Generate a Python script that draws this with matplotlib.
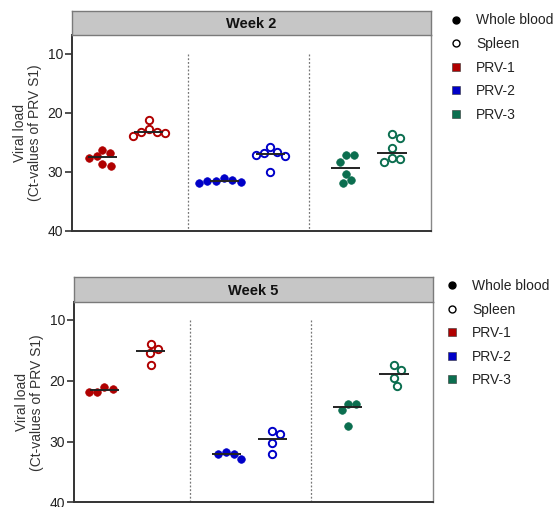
import numpy as np
import matplotlib
matplotlib.use("Agg")
import matplotlib.pyplot as plt
from matplotlib.lines import Line2D

plt.rcParams['font.family'] = ['Liberation Sans', 'DejaVu Sans']

# Ct values (lower Ct = more virus)
weeks = ['Week 2', 'Week 5']
strains = ['PRV-1', 'PRV-2', 'PRV-3']
colors = ['#b00000', '#0000c8', '#0b6e4f']

week2_blood = [[26.3, 26.9, 27.4, 27.7, 28.6, 29.0],
               [31.1, 31.4, 31.5, 31.6, 31.7, 31.9],
               [27.2, 27.2, 28.3, 30.3, 31.4, 31.9]]
week2_spleen = [[21.2, 22.8, 23.2, 23.2, 23.4, 24.0],
                [25.8, 26.6, 26.8, 27.1, 27.3, 30.0],
                [23.6, 24.2, 25.9, 27.7, 27.9, 28.3]]
week5_blood = [[21.1, 21.3, 21.8, 21.8],
               [31.7, 32.0, 32.1, 32.8],
               [23.8, 23.8, 24.8, 27.4]]
week5_spleen = [[14.0, 14.8, 15.4, 17.4],
                [28.2, 28.8, 30.3, 32.1],
                [17.4, 18.2, 19.6, 20.9]]

blood = [week2_blood, week5_blood]
spleen = [week2_spleen, week5_spleen]

W, H = 558, 507
fig = plt.figure(figsize=(W / 100, H / 100), dpi=100)

# panel boxes in pixels: left, top, right, bottom, strip top, ylim top
panels = [(72, 35, 431, 230.7, 11, 6.8),
          (74, 302.3, 433, 502.3, 277.3, 7.1)]
legend_pos = [(449.5, 13.5), (445.5, 279)]
xlim = (-0.45, 2.5)


def swarm(vals, px_x, px_y, d=8.5):
    # simple beeswarm in pixel space, returns x offsets in data units
    order = np.argsort(vals)
    placed = []
    offs = np.zeros(len(vals))
    for i in order:
        y = vals[i] * px_y
        cands = [0.0]
        for px, py in placed:
            dy = abs(y - py)
            if dy < d:
                dx = np.sqrt(d * d - dy * dy)
                cands += [px + dx, px - dx]
        cands.sort(key=lambda c: (abs(round(c, 6)), -c))
        for c in cands:
            if all((c - px) ** 2 + (y - py) ** 2 >= d * d - 1e-6 for px, py in placed):
                break
        placed.append((c, y))
        offs[i] = c / px_x
    return offs


for k, (l, t, r, b, st, ytop) in enumerate(panels):
    ax = fig.add_axes([l / W, 1 - b / H, (r - l) / W, (b - t) / H])
    ax.set_xlim(*xlim)
    ax.set_ylim(40, ytop)
    px_x = (r - l) / (xlim[1] - xlim[0])
    px_y = (b - t) / (40 - ytop)

    for g in range(3):
        for vals, dx, filled in [(blood[k][g], -0.2, True), (spleen[k][g], 0.18, False)]:
            v = np.array(vals)
            x = g + dx + swarm(v, px_x, px_y)
            if filled:
                ax.scatter(x, v, s=30, color=colors[g], edgecolor=colors[g],
                           linewidth=0.5, zorder=3)
            else:
                ax.scatter(x, v, s=28, facecolor='white', edgecolor=colors[g],
                           linewidth=1.4, zorder=3)
            ax.hlines(np.median(v), g + dx - 0.12, g + dx + 0.12,
                      color='#222222', lw=1.4, zorder=4)

    ax.vlines([0.5, 1.5], 10, 40, colors='#777777', linestyles=(0, (1.5, 1.5)), lw=0.9)

    ax.set_xticks([])
    ax.set_yticks([10, 20, 30, 40])
    ax.tick_params(axis='y', length=5, width=1.2, color='#333333',
                   labelsize=10, labelcolor='#222222', pad=1.5)
    for s in ['left', 'bottom']:
        ax.spines[s].set_color('#333333')
        ax.spines[s].set_linewidth(1.4)
    ax.spines['right'].set_color('#888888')
    ax.spines['right'].set_linewidth(1.0)
    ax.spines['top'].set_visible(False)
    ax.set_ylabel('Viral load\n(Ct-values of PRV S1)', fontsize=10,
                  color='#333333', labelpad=4, linespacing=1.05)

    sax = fig.add_axes([l / W, 1 - t / H, (r - l) / W, (t - st) / H])
    sax.set_facecolor('#c6c6c6')
    sax.set_xticks([])
    sax.set_yticks([])
    for s in sax.spines.values():
        s.set_color('#7a7a7a')
        s.set_linewidth(1.0)
    sax.text(0.5, 0.45, weeks[k], ha='center', va='center',
             fontsize=10.5, fontweight='bold', color='#111111')

    handles = [Line2D([], [], ls='', marker='o', ms=5, color='black'),
               Line2D([], [], ls='', marker='o', ms=5, mfc='white', mec='black', mew=1.0)]
    handles += [Line2D([], [], ls='', marker='s', ms=5.5, color=c, mec='#333333', mew=0.4)
                for c in colors]
    lx, ly = legend_pos[k]
    fig.legend(handles, ['Whole blood', 'Spleen'] + strains, loc='upper left',
               bbox_to_anchor=(lx / W, 1 - ly / H), frameon=False, fontsize=10,
               handlelength=1.0, handletextpad=0.9, labelspacing=0.69,
               borderpad=0, borderaxespad=0, labelcolor='#222222')

fig.savefig('out.png', dpi=100)
